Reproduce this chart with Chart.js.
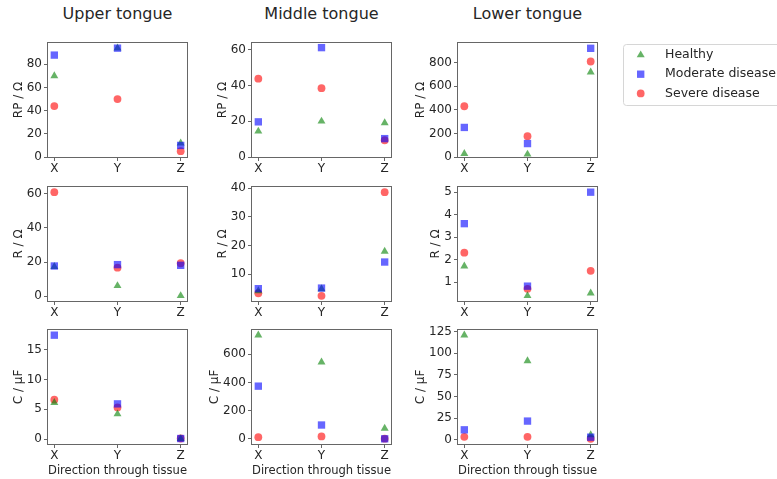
<!DOCTYPE html>
<html>
<head>
<meta charset="utf-8">
<script src="https://cdn.jsdelivr.net/npm/chart.js@4.4.0/dist/chart.umd.min.js"></script>
<style>
  body { margin: 0; background: #fff; font-family: "DejaVu Sans", sans-serif; }
  #fig { position: relative; width: 777px; height: 479px; overflow: hidden; }
  #fig canvas { position: absolute; }
  .col-title { position: absolute; top: 4px; width: 200px; margin-left: -100px; text-align: center;
               font-size: 16px; line-height: 20px; color: #262626; }
</style>
</head>
<body>
<div id="fig"></div>
<script>
const directions = ['X', 'Y', 'Z'];
const regions = ['Upper tongue', 'Middle tongue', 'Lower tongue'];
const groups = ['Healthy', 'Moderate disease', 'Severe disease'];

// each panel: [healthy, moderate, severe] values along X, Y, Z
const rpUpper  = [[70, 94, 12], [88, 94, 10], [44, 50, 5]];
const rpMiddle = [[14.4, 20, 19.1], [19.7, 61.3, 10.3], [43.9, 38.6, 9.4]];
const rpLower  = [[29, 23, 720], [251, 114, 923], [431, 177, 811]];

const rUpper  = [[17.3, 6.1, 0.2], [17.7, 18.5, 18.1], [61, 16.7, 19.3]];
const rMiddle = [[4.1, 4.8, 17.9], [4.9, 5.1, 14.2], [3.3, 2.4, 38.6]];
const rLower  = [[1.71, 0.39, 0.51], [3.6, 0.82, 5.0], [2.31, 0.70, 1.5]];

const cUpper  = [[6.1, 4.2, 0.05], [17.4, 5.9, 0.1], [6.6, 5.3, 0.1]];
const cMiddle = [[736, 545, 74], [374, 98, 0], [12, 17, 1]];
const cLower  = [[121, 91.2, 5.8], [11.6, 21.7, 3.1], [3.5, 3.5, 1.2]];

const rpSteps = [20, 20, 200];
const rSteps = [20, 10, 1];
const cSteps = [5, 200, 25];

const colors = ['rgba(0,128,0,0.6)', 'rgba(0,0,255,0.6)', 'rgba(255,0,0,0.6)'];
const markers = ['triangle', 'rect', 'circle'];
const markerSize = [4.6, 5.2, 3.9];
// stacking: squares on top, circles underneath
const drawOrder = [2, 1, 3];

const rows = [
  { label: 'RP / Ω', panels: [rpUpper, rpMiddle, rpLower], steps: rpSteps, fromZero: true },
  { label: 'R / Ω', panels: [rUpper, rMiddle, rLower], steps: rSteps, fromZero: false },
  { label: 'C / µF', panels: [cUpper, cMiddle, cLower], steps: cSteps, fromZero: false }
];

const colLeft = [48, 252, 458];
const rowTop = [43, 187, 330];
const boxW = 139, boxH = 114, yAxisW = 48, padTop = 10;
const FONT = '"DejaVu Sans", sans-serif';
const edge = '#666';
const textCol = '#262626';

// axis limits like matplotlib's default 5% margins
function limits(panel, fromZero) {
  const all = panel.flat();
  const lo = Math.min(...all), hi = Math.max(...all);
  const m = (hi - lo) * 0.05;
  return { min: fromZero ? 0 : lo - m, max: hi + m };
}

// ticks on multiples of the step inside the axis range
function stepTicks(step) {
  return scale => {
    const ticks = [];
    for (let v = Math.ceil(scale.min / step) * step; v <= scale.max + 1e-9; v += step) {
      ticks.push({ value: +v.toFixed(6) });
    }
    scale.ticks = ticks;
  };
}

// full frame around the plotting area
const frame = {
  id: 'frame',
  afterDraw(chart) {
    const { ctx, chartArea: a } = chart;
    ctx.save();
    ctx.strokeStyle = edge;
    ctx.lineWidth = 1;
    ctx.strokeRect(Math.round(a.left) - 0.5, Math.round(a.top) - 0.5,
                   Math.round(a.right - a.left) + 1, Math.round(a.bottom - a.top) + 1);
    ctx.restore();
  }
};

// y label sitting just left of the widest tick label
const yLabel = {
  id: 'yLabel',
  afterDraw(chart, args, opts) {
    const { ctx, chartArea: a } = chart;
    const ys = chart.scales.y;
    ctx.save();
    ctx.font = '12px ' + FONT;
    const w = Math.max(...ys.ticks.map(t => ctx.measureText(String(t.label)).width));
    const x = a.left - 6 - w - 8;
    ctx.translate(x, (a.top + a.bottom) / 2);
    ctx.rotate(-Math.PI / 2);
    ctx.fillStyle = textCol;
    ctx.textAlign = 'center';
    ctx.textBaseline = 'middle';
    ctx.fillText(opts.text, 0, 0);
    ctx.restore();
  }
};

// legend box to the right of the top-right panel
const sideLegend = {
  id: 'sideLegend',
  afterDraw(chart, args, opts) {
    if (!opts.show) return;
    const ctx = chart.ctx;
    const x0 = 213.5, y0 = 11.5, w = 180, h = 61, r = 3;
    ctx.save();
    ctx.beginPath();
    ctx.moveTo(x0 + r, y0);
    ctx.arcTo(x0 + w, y0, x0 + w, y0 + h, r);
    ctx.arcTo(x0 + w, y0 + h, x0, y0 + h, r);
    ctx.arcTo(x0, y0 + h, x0, y0, r);
    ctx.arcTo(x0, y0, x0 + w, y0, r);
    ctx.closePath();
    ctx.fillStyle = 'rgba(255,255,255,0.8)';
    ctx.fill();
    ctx.strokeStyle = '#d6d6d6';
    ctx.stroke();
    groups.forEach((g, i) => {
      const cy = 22 + i * 19.2;
      ctx.fillStyle = colors[i];
      Chart.helpers.drawPoint(ctx, { pointStyle: markers[i], radius: markerSize[i], rotation: 0, borderWidth: 0 }, 230.7, cy);
      ctx.fillStyle = textCol;
      ctx.font = '12.5px ' + FONT;
      ctx.textAlign = 'left';
      ctx.textBaseline = 'middle';
      ctx.fillText(g, 255, cy);
    });
    ctx.restore();
  }
};

const fig = document.getElementById('fig');

regions.forEach((name, c) => {
  const t = document.createElement('div');
  t.className = 'col-title';
  t.style.left = (colLeft[c] + boxW / 2) + 'px';
  t.textContent = name;
  fig.appendChild(t);
});

rows.forEach((row, r) => {
  row.panels.forEach((panel, c) => {
    const last = r === rows.length - 1;
    const xAxisH = last ? 36 : 22;
    const legendHere = r === 0 && c === 2;
    const padRight = legendHere ? 777 - (colLeft[c] + boxW) : 10;
    const cv = document.createElement('canvas');
    const w = yAxisW + boxW + padRight;
    const h = padTop + boxH + xAxisH;
    cv.width = w; cv.height = h;
    cv.style.width = w + 'px'; cv.style.height = h + 'px';
    cv.style.left = (colLeft[c] - yAxisW) + 'px';
    cv.style.top = (rowTop[r] - padTop) + 'px';
    fig.appendChild(cv);

    const lim = limits(panel, row.fromZero);
    new Chart(cv, {
      type: 'scatter',
      data: {
        datasets: panel.map((vals, g) => ({
          label: groups[g],
          data: vals.map((v, i) => ({ x: i, y: v })),
          backgroundColor: colors[g],
          borderWidth: 0,
          pointStyle: markers[g],
          pointRadius: markerSize[g],
          pointHoverRadius: markerSize[g],
          order: drawOrder[g]
        }))
      },
      options: {
        responsive: false,
        animation: false,
        events: [],
        layout: { padding: { left: 0, top: padTop, right: padRight, bottom: 0 } },
        plugins: {
          legend: { display: false },
          tooltip: { enabled: false },
          yLabel: { text: row.label },
          sideLegend: { show: legendHere }
        },
        scales: {
          x: {
            type: 'linear',
            min: -0.1, max: 2.1,
            afterBuildTicks: stepTicks(1),
            afterFit: s => { s.height = xAxisH; },
            border: { display: false },
            grid: { drawOnChartArea: false, drawTicks: true, tickLength: 4, color: edge },
            ticks: {
              padding: 1, maxRotation: 0,
              color: textCol, font: { family: FONT, size: 12 },
              callback: v => directions[v] ?? ''
            },
            title: {
              display: last, text: 'Direction through tissue', color: textCol,
              font: { family: FONT, size: 12 }, padding: { top: 0, bottom: 2 }
            }
          },
          y: {
            min: lim.min, max: lim.max,
            afterBuildTicks: stepTicks(row.steps[c]),
            afterFit: s => { s.width = yAxisW; },
            border: { display: false },
            grid: { drawOnChartArea: false, drawTicks: true, tickLength: 4, color: edge },
            ticks: {
              padding: 2,
              color: textCol, font: { family: FONT, size: 12 }
            }
          }
        }
      },
      plugins: [frame, yLabel, sideLegend]
    });
  });
});
</script>
</body>
</html>
